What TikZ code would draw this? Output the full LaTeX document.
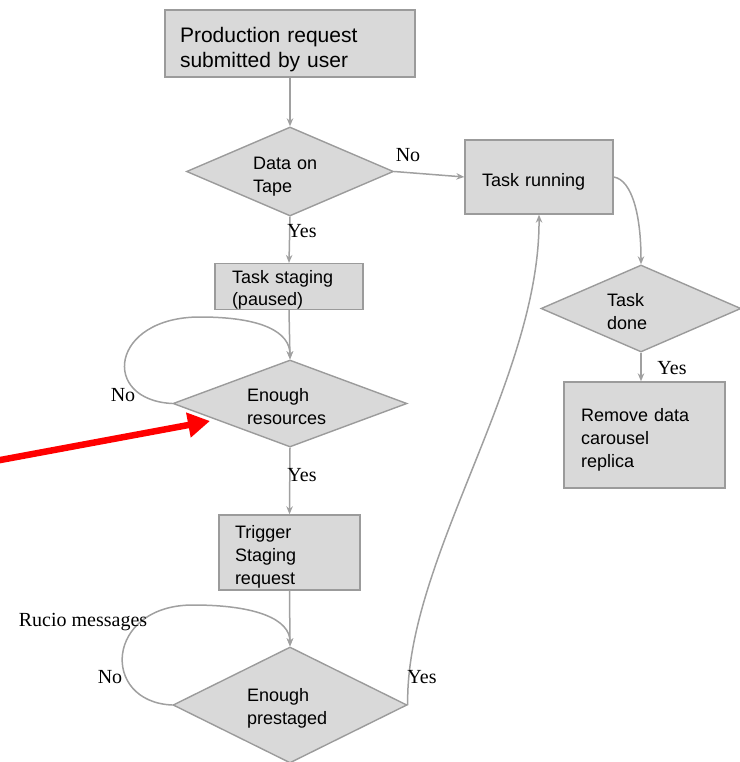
\documentclass[tikz,border=0pt]{standalone}
\usepackage{fontspec}
\setmainfont{Liberation Sans}
\newfontfamily\lblfont{Liberation Serif}
\usetikzlibrary{shapes.geometric,arrows.meta}
\definecolor{boxfill}{HTML}{D9D9D9}
\definecolor{boxline}{HTML}{9B9B9B}
\definecolor{conn}{HTML}{A0A0A0}
\definecolor{redarrow}{HTML}{FF0000}
\newcommand\firststrut[1]{\rule{0pt}{#1}}
\begin{document}
\begin{tikzpicture}[x=1pt,y=-1pt,
  box/.style={draw=boxline, fill=boxfill, line width=1.4pt, rectangle, inner sep=0pt,
    align=left, font=\fontsize{18}{23}\selectfont},
  dia/.style={draw=boxline, fill=boxfill, line width=1.4pt, diamond, inner sep=0pt,
    align=left, font=\fontsize{18}{23}\selectfont},
  conn/.style={draw=conn, line width=1.5pt, -{Stealth[length=8pt,width=6.5pt]}},
  lbl/.style={font=\lblfont\fontsize{20}{22}\selectfont, inner sep=0pt}
]
\useasboundingbox (0,0) rectangle (739,762);

% boxes
\node[box, minimum width=250pt, minimum height=67pt, text width=220pt,
  font=\fontsize{21}{25}\selectfont] (req) at (290,43.5) {\firststrut{27pt}Production request\\submitted by user};
\node[box, minimum width=148pt, minimum height=74pt, text width=114pt] (run) at (539,177) {\firststrut{22pt}Task running};
\node[box, minimum width=148pt, minimum height=45pt, text width=114pt,
  font=\fontsize{18}{22}\selectfont] (stg) at (289,286.5) {\firststrut{20pt}Task staging\\(paused)};
\node[box, minimum width=141pt, minimum height=75pt, text width=109pt] (trig) at (289.5,552.5) {\firststrut{21pt}Trigger\\Staging\\request};
\node[box, minimum width=161pt, minimum height=106pt, text width=127pt] (rm) at (644.5,435) {\firststrut{22pt}Remove data\\carousel\\replica};

% decisions
\node[dia, aspect=2.33, minimum width=207pt, minimum height=89pt, text width=74pt] (tape) at (290,171.5) {\firststrut{22pt}Data on\\Tape};
\node[dia, aspect=2.69, minimum width=234pt, minimum height=87pt, text width=86pt] (res) at (290,403.5) {\firststrut{20pt}Enough\\resources};
\node[dia, aspect=2.3, minimum width=200pt, minimum height=87pt, text width=68pt] (done) at (641,308.5) {\firststrut{20pt}Task\\done};
\node[dia, aspect=2.0, minimum width=234pt, minimum height=116pt, text width=86pt] (pre) at (290,705) {\firststrut{20pt}Enough\\prestaged};

% connectors
\draw[conn] (req.south) -- (tape.north);
\draw[conn] (tape.east) -- (run.west);
\draw[conn] (tape.south) -- (stg.north);
\draw[conn] (stg.south) -- (res.north);
\draw[conn] (res.west) .. controls (100,400) and (110,317) .. (200,317)
  .. controls (262,317) and (290,332) .. (res.north);
\draw[conn] (res.south) -- (trig.north);
\draw[conn] (trig.south) -- (pre.north);
\draw[conn] (pre.west) .. controls (100,702) and (105,605) .. (193,605)
  .. controls (258,605) and (290,620) .. (pre.north);
\draw[conn] (pre.east) .. controls (405,560) and (540,380) .. (run.south);
\draw[conn] (run.east) .. controls (632,180) and (641,215) .. (done.north);
\draw[conn] (done.south) -- (done.south |- rm.north);

% labels
\node[lbl] (lno1) at (408,155) {No};
\node[lbl] (lyes1) at (302,231) {Yes};
\node[lbl] (lno2) at (123,395) {No};
\node[lbl] (lyes2) at (302,475) {Yes};
\node[lbl] (lrucio) at (83,622) {Rucio messages};
\node[lbl] (lno3) at (110,677) {No};
\node[lbl] (lyes3) at (422,677) {Yes};
\node[lbl] (lyes4) at (672,368) {Yes};

% red pointer
\coordinate (rs) at (-5,461);
\coordinate (rt) at (210,421);
\draw[redarrow, line width=6.5pt, -{Triangle[length=22pt,width=24pt]}] (rs) -- (rt);
\end{tikzpicture}
\end{document}
